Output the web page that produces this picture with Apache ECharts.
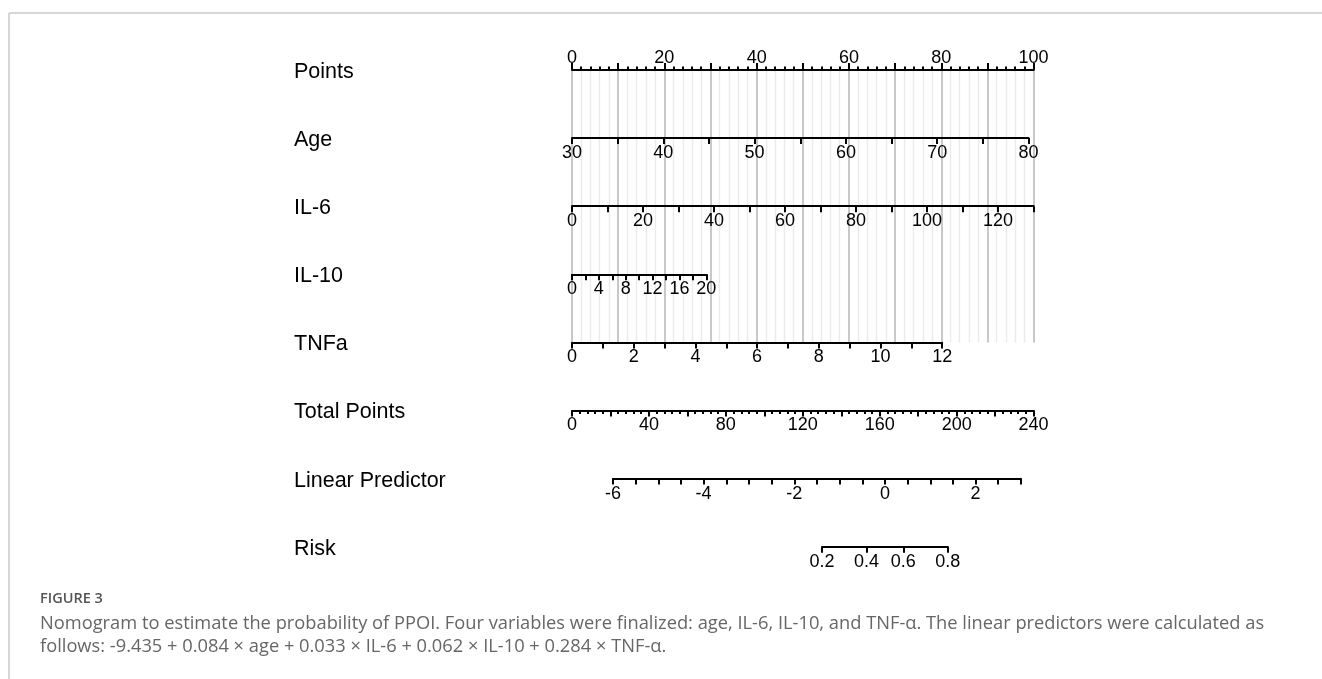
<!DOCTYPE html>
<html>
<head>
<meta charset="utf-8">
<script src="https://cdn.jsdelivr.net/npm/echarts@6/dist/echarts.min.js"></script>
<style>
  html, body { margin: 0; padding: 0; background: #fff; }
  #chart { width: 1322px; height: 679px; }
</style>
</head>
<body>
<div id="chart"></div>
<script>
// ---- Nomogram content ----
const rowNames = ['Points', 'Age', 'IL-6', 'IL-10', 'TNFa', 'Total Points', 'Linear Predictor', 'Risk'];

// Points scale and tick steps [tick, label, minor]
const pointsRange = [0, 100];
const pointsSteps = [10, 20, 2];

// Predictors: value range, points covered by that range, tick steps [tick, label]
const ageRange = [30, 80];
const agePoints = [0, 98.9];
const ageSteps = [5, 10];

const il6Range = [0, 130];
const il6Points = [0, 100];
const il6Steps = [10, 20];

const il10Range = [0, 20];
const il10Points = [0, 29.1];
const il10Steps = [2, 4];

const tnfRange = [0, 12];
const tnfPoints = [0, 80.2];
const tnfSteps = [1, 2];

// Total points scale [tick, label, minor]
const totalRange = [0, 240];
const totalSteps = [20, 40, 4];

// Linear predictor range and the total points where it starts / ends
const lpRange = [-6, 3];
const lpTotalPoints = [21.3, 233.4];
const lpSteps = [0.5, 2];

// Risk tick values
const riskTicks = [0.2, 0.4, 0.6, 0.8];

const captionTitle = 'FIGURE 3';
const captionLines = [
  'Nomogram to estimate the probability of PPOI. Four variables were finalized: age, IL-6, IL-10, and TNF-\u03B1. The linear predictors were calculated as',
  'follows: -9.435 + 0.084 \u00D7 age + 0.033 \u00D7 IL-6 + 0.062 \u00D7 IL-10 + 0.284 \u00D7 TNF-\u03B1.'
];

// ---- Layout ----
const scaleLeft = 572;      // pixel of 0 points
const scaleWidth = 461.6;   // pixels for the full points range
const rowTop = 70;
const rowStep = 68.1;
const labelLeft = 294;
const plotFont = '"Liberation Sans", Arial, Helvetica, sans-serif';
const captionFont = '"Open Sans", "Noto Sans", sans-serif';
const lineW = 2;

const pxFromPoints = p => scaleLeft + (p - pointsRange[0]) / (pointsRange[1] - pointsRange[0]) * scaleWidth;
const pxFromTotal = t => scaleLeft + (t - totalRange[0]) / (totalRange[1] - totalRange[0]) * scaleWidth;
const totalFromLp = lp => lpTotalPoints[0] + (lp - lpRange[0]) / (lpRange[1] - lpRange[0]) * (lpTotalPoints[1] - lpTotalPoints[0]);
const logit = p => Math.log(p / (1 - p));
const isMultiple = (v, step) => Math.abs(v / step - Math.round(v / step)) < 1e-6;

const grids = [];
const xAxes = [];
const yAxes = [];

function labelOpt(extra) {
  return Object.assign({
    show: true, inside: true, margin: 6, color: '#000', fontSize: 18, fontFamily: plotFont,
    showMinLabel: true, showMaxLabel: true, hideOverlap: false
  }, extra);
}

function addRow(rowIndex, x0, x1, height, axisOpt) {
  const gi = grids.length;
  grids.push({
    left: x0, width: x1 - x0, top: rowTop + rowIndex * rowStep, height: height,
    containLabel: false, outerBoundsMode: 'none', show: false
  });
  yAxes.push({ gridIndex: gi, type: 'value', show: false });
  xAxes.push(Object.assign({
    gridIndex: gi,
    type: 'value',
    position: 'top',
    axisLine: { show: true, onZero: false, lineStyle: { color: '#000', width: lineW } },
    axisTick: { show: true, inside: true, length: 6, lineStyle: { color: '#000', width: lineW } },
    axisLabel: labelOpt({}),
    splitLine: { show: false }
  }, axisOpt));
}

// Points row, carrying the vertical reference lines down to the TNFa row
addRow(0, pxFromPoints(pointsRange[0]), pxFromPoints(pointsRange[1]), rowStep * 4, {
  min: pointsRange[0], max: pointsRange[1], interval: pointsSteps[0],
  axisTick: { show: true, inside: false, length: 7, lineStyle: { color: '#000', width: lineW } },
  minorTick: { show: true, splitNumber: pointsSteps[0] / pointsSteps[2], length: 3.5, lineStyle: { color: '#000', width: lineW } },
  splitLine: { show: true, lineStyle: { color: '#c8c8c8', width: 2 } },
  minorSplitLine: { show: true, lineStyle: { color: '#ebebeb', width: 1.4 } },
  axisLabel: labelOpt({
    inside: false, margin: 3,
    formatter: v => isMultiple(v, pointsSteps[1]) ? String(v) : ''
  })
});

function addPredictor(rowIndex, range, pts, steps) {
  addRow(rowIndex, pxFromPoints(pts[0]), pxFromPoints(pts[1]), 20, {
    min: range[0], max: range[1], interval: steps[0],
    axisLabel: labelOpt({ formatter: v => isMultiple(v, steps[1]) ? String(v) : '' })
  });
}
addPredictor(1, ageRange, agePoints, ageSteps);
addPredictor(2, il6Range, il6Points, il6Steps);
addPredictor(3, il10Range, il10Points, il10Steps);
addPredictor(4, tnfRange, tnfPoints, tnfSteps);

// Total points
addRow(5, pxFromTotal(totalRange[0]), pxFromTotal(totalRange[1]), 20, {
  min: totalRange[0], max: totalRange[1], interval: totalSteps[0],
  minorTick: { show: true, splitNumber: totalSteps[0] / totalSteps[2], length: 3.5, lineStyle: { color: '#000', width: lineW } },
  axisLabel: labelOpt({ formatter: v => isMultiple(v, totalSteps[1]) ? String(v) : '' })
});

// Linear predictor
addRow(6, pxFromTotal(totalFromLp(lpRange[0])), pxFromTotal(totalFromLp(lpRange[1])), 20, {
  min: lpRange[0], max: lpRange[1], interval: lpSteps[0],
  axisLabel: labelOpt({ formatter: v => isMultiple(v, lpSteps[1]) ? String(Math.round(v)) : '' })
});

// Risk, placed on the linear predictor through the logit
const riskLp = riskTicks.map(logit);
const riskMinLp = Math.min.apply(null, riskLp);
const riskMaxLp = Math.max.apply(null, riskLp);
addRow(7, pxFromTotal(totalFromLp(riskMinLp)), pxFromTotal(totalFromLp(riskMaxLp)), 20, {
  min: riskMinLp, max: riskMaxLp,
  axisTick: { show: true, inside: true, length: 6, customValues: riskLp, lineStyle: { color: '#000', width: lineW } },
  axisLabel: labelOpt({
    customValues: riskLp,
    formatter: v => (1 / (1 + Math.exp(-v))).toFixed(1)
  })
});

// Row names, frame and caption
const graphics = rowNames.map((name, i) => ({
  type: 'text', x: labelLeft, y: rowTop + i * rowStep + 2,
  style: { text: name, fontSize: 21.5, fontFamily: plotFont, fill: '#000', verticalAlign: 'middle', align: 'left' }
}));
graphics.push(
  { type: 'line', shape: { x1: 9, y1: 13, x2: 1322, y2: 13 }, style: { stroke: '#d6d6d6', lineWidth: 2 } },
  { type: 'line', shape: { x1: 9, y1: 13, x2: 9, y2: 679 }, style: { stroke: '#d6d6d6', lineWidth: 2 } },
  { type: 'text', x: 40, y: 599, style: { text: captionTitle, fontSize: 14.5, fontWeight: 600, fontFamily: captionFont, fill: '#555', verticalAlign: 'middle' } }
);
captionLines.forEach((line, i) => {
  graphics.push({
    type: 'text', x: 40, y: 623.5 + i * 23,
    style: { text: line, fontSize: 18.3, fontFamily: captionFont, fill: '#666', verticalAlign: 'middle' }
  });
});

const chart = echarts.init(document.getElementById('chart'), null, { renderer: 'canvas' });
chart.setOption({
  animation: false,
  backgroundColor: '#fff',
  grid: grids,
  xAxis: xAxes,
  yAxis: yAxes,
  series: [],
  graphic: graphics
});
</script>
</body>
</html>
